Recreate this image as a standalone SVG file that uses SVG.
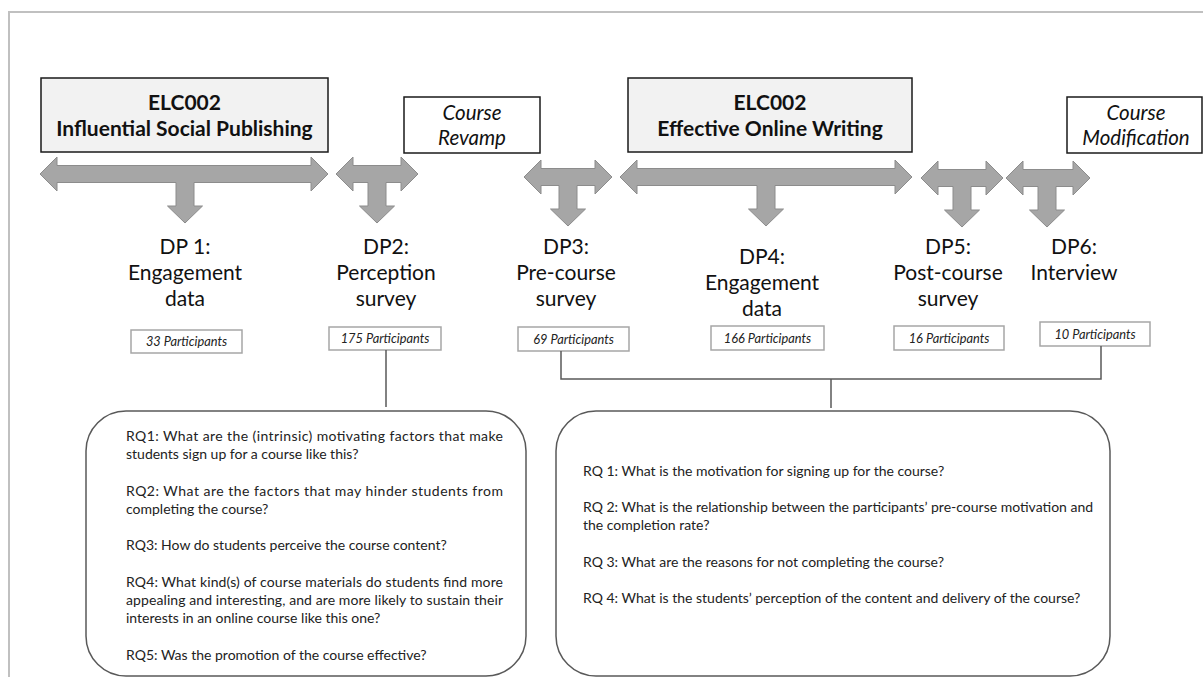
<svg xmlns="http://www.w3.org/2000/svg" width="1203" height="677" viewBox="0 0 1203 677">
<style>
.frame{fill:none;stroke:#c0c0c0;stroke-width:2}
.title{fill:#f2f2f2;stroke:#1a1a1a;stroke-width:1.5}
.event{fill:#ffffff;stroke:#1a1a1a;stroke-width:1.5}
.arrow{fill:#a6a6a6;stroke:#8c8c8c;stroke-width:1}
.pbox{fill:#ffffff;stroke:#a6a6a6;stroke-width:1.5}
.rq{fill:#ffffff;stroke:#595959;stroke-width:1.5}
.conn{fill:none;stroke:#595959;stroke-width:1.5}
.tt{font-family:Lato,"Liberation Sans",sans-serif;font-weight:bold;font-size:21px;fill:#111;text-anchor:middle}
.ev{font-family:Lato,"Liberation Sans",sans-serif;font-style:italic;font-size:20.5px;fill:#111;text-anchor:middle}
.dp{font-family:Lato,"Liberation Sans",sans-serif;font-size:21px;fill:#111;text-anchor:middle}
.pt{font-family:Lato,"Liberation Sans",sans-serif;font-style:italic;font-size:12.8px;fill:#222;text-anchor:middle}
.q{font-family:Lato,"Liberation Sans",sans-serif;font-size:14px;fill:#222}
.q2{font-family:Lato,"Liberation Sans",sans-serif;font-size:14px;fill:#222}
</style>
<rect class="frame" x="9" y="12" width="1300" height="800"/>

<g id="course1">
<rect class="title" x="41" y="78" width="287" height="74"/>
<text class="tt" x="184.5" y="110">ELC002</text>
<text class="tt" x="184.5" y="136">Influential Social Publishing</text>
</g>
<g id="revamp">
<rect class="event" x="404" y="97" width="136" height="56"/>
<text class="ev" x="472" y="120">Course</text>
<text class="ev" x="472" y="145">Revamp</text>
</g>
<g id="course2">
<rect class="title" x="628" y="78" width="284" height="74"/>
<text class="tt" x="770" y="110">ELC002</text>
<text class="tt" x="770" y="136">Effective Online Writing</text>
</g>
<g id="modification">
<rect class="event" x="1067" y="97" width="135" height="56"/>
<text class="ev" x="1136" y="120">Course</text>
<text class="ev" x="1136" y="145">Modification</text>
</g>

<g id="arrows">
<path class="arrow" d="M40,174 L57,157 L57,165.5 L311,165.5 L311,157 L328,174 L311,191 L311,182.5 L194,182.5 L194,206 L202.5,206 L185,223 L167.5,206 L176,206 L176,182.5 L57,182.5 L57,191 Z"/>
<path class="arrow" d="M336,174 L353,157 L353,165.5 L401,165.5 L401,157 L418,174 L401,191 L401,182.5 L386,182.5 L386,206 L394.5,206 L377,223 L359.5,206 L368,206 L368,182.5 L353,182.5 L353,191 Z"/>
<path class="arrow" d="M524,177 L541,160 L541,168.5 L595,168.5 L595,160 L612,177 L595,194 L595,185.5 L577,185.5 L577,209 L585.5,209 L568,226 L550.5,209 L559,209 L559,185.5 L541,185.5 L541,194 Z"/>
<path class="arrow" d="M620,177 L637,160 L637,168.5 L895,168.5 L895,160 L912,177 L895,194 L895,185.5 L775,185.5 L775,209 L783.5,209 L766,226 L748.5,209 L757,209 L757,185.5 L637,185.5 L637,194 Z"/>
<path class="arrow" d="M921,178 L938,161 L938,169.5 L986,169.5 L986,161 L1003,178 L986,195 L986,186.5 L971,186.5 L971,210 L979.5,210 L962,227 L944.5,210 L953,210 L953,186.5 L938,186.5 L938,195 Z"/>
<path class="arrow" d="M1006,178 L1023,161 L1023,169.5 L1073,169.5 L1073,161 L1090,178 L1073,195 L1073,186.5 L1056,186.5 L1056,210 L1064.5,210 L1047,227 L1029.5,210 L1038,210 L1038,186.5 L1023,186.5 L1023,195 Z"/>
</g>

<g id="dp1">
<text class="dp" x="185" y="254">DP 1:</text>
<text class="dp" x="185" y="280">Engagement</text>
<text class="dp" x="185" y="306">data</text>
<rect class="pbox" x="131" y="330" width="111" height="23"/>
<text class="pt" x="186.5" y="346">33 Participants</text>
</g>
<g id="dp2">
<text class="dp" x="386" y="254">DP2:</text>
<text class="dp" x="386" y="280">Perception</text>
<text class="dp" x="386" y="306">survey</text>
<rect class="pbox" x="329" y="327" width="112" height="23"/>
<text class="pt" x="385" y="343">175 Participants</text>
</g>
<g id="dp3">
<text class="dp" x="566" y="254">DP3:</text>
<text class="dp" x="566" y="280">Pre-course</text>
<text class="dp" x="566" y="306">survey</text>
<rect class="pbox" x="518" y="327" width="111" height="24"/>
<text class="pt" x="573.5" y="343.5">69 Participants</text>
</g>
<g id="dp4">
<text class="dp" x="762" y="264">DP4:</text>
<text class="dp" x="762" y="290">Engagement</text>
<text class="dp" x="762" y="316">data</text>
<rect class="pbox" x="711" y="326" width="113" height="24"/>
<text class="pt" x="767.5" y="342.5">166 Participants</text>
</g>
<g id="dp5">
<text class="dp" x="948" y="254">DP5:</text>
<text class="dp" x="948" y="280">Post-course</text>
<text class="dp" x="948" y="306">survey</text>
<rect class="pbox" x="894" y="326" width="110" height="24"/>
<text class="pt" x="949" y="342.5">16 Participants</text>
</g>
<g id="dp6">
<text class="dp" x="1074" y="254">DP6:</text>
<text class="dp" x="1074" y="280">Interview</text>
<rect class="pbox" x="1040" y="322" width="110" height="24"/>
<text class="pt" x="1095" y="338.5">10 Participants</text>
</g>

<g id="connectors">
<line class="conn" x1="386" y1="350" x2="386" y2="407"/>
<polyline class="conn" points="561,351 561,379 1101,379 1101,346"/>
<line class="conn" x1="831" y1="379" x2="831" y2="408"/>
</g>

<g id="rq-left">
<rect class="rq" x="86" y="411" width="440" height="265" rx="40" ry="40"/>
<text class="q" x="126" y="441" textLength="377" lengthAdjust="spacing">RQ1: What are the (intrinsic) motivating factors that make</text>
<text class="q" x="126" y="459">students sign up for a course like this?</text>
<text class="q" x="126" y="496" textLength="377" lengthAdjust="spacing">RQ2: What are the factors that may hinder students from</text>
<text class="q" x="126" y="514">completing the course?</text>
<text class="q" x="126" y="550">RQ3: How do students perceive the course content?</text>
<text class="q" x="126" y="587" textLength="377" lengthAdjust="spacing">RQ4: What kind(s) of course materials do students find more</text>
<text class="q" x="126" y="605" textLength="377" lengthAdjust="spacing">appealing and interesting, and are more likely to sustain their</text>
<text class="q" x="126" y="623">interests in an online course like this one?</text>
<text class="q" x="126" y="660">RQ5: Was the promotion of the course effective?</text>
</g>
<g id="rq-right">
<rect class="rq" x="556" y="411" width="554" height="265" rx="40" ry="40"/>
<text class="q2" x="583" y="476">RQ 1: What is the motivation for signing up for the course?</text>
<text class="q2" x="583" y="512">RQ 2: What is the relationship between the participants’ pre-course motivation and</text>
<text class="q2" x="583" y="530">the completion rate?</text>
<text class="q2" x="583" y="567">RQ 3: What are the reasons for not completing the course?</text>
<text class="q2" x="583" y="603">RQ 4: What is the students’ perception of the content and delivery of the course?</text>
</g>
</svg>
